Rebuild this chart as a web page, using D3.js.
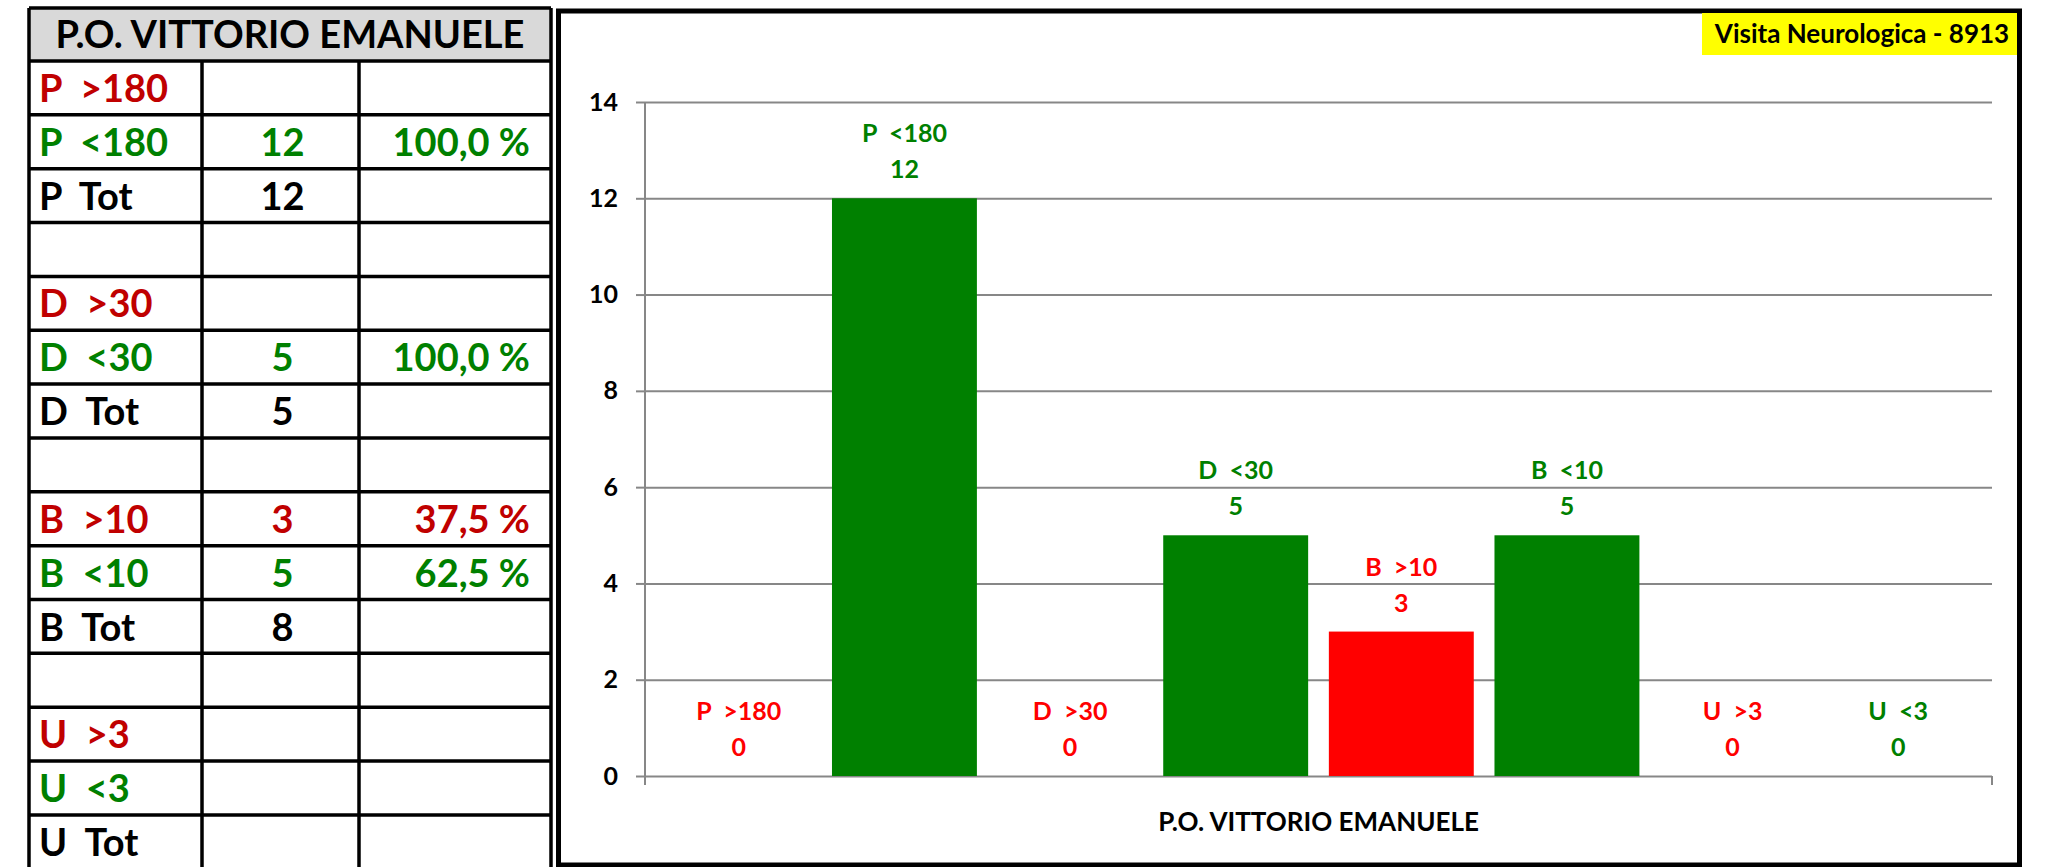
<!DOCTYPE html>
<html>
<head>
<meta charset="utf-8">
<script src="https://cdn.jsdelivr.net/npm/d3@7"></script>
<style>
  body{margin:0;background:#ffffff;}
  svg text{font-family:Lato,"Open Sans",sans-serif;font-weight:700;white-space:pre;}
</style>
</head>
<body>
<svg id="board" width="2047" height="867"></svg>
<script>
//table on the left, bar chart on the right

//table data
var tableTitle = "P.O. VITTORIO EMANUELE";
var rowLabels = ["P  >180","P  <180","P  Tot","","D  >30","D  <30","D  Tot","","B  >10","B  <10","B  Tot","","U  >3","U  <3","U  Tot"];
var rowCounts = ["","12","12","","","5","5","","3","5","8","","","",""];
var rowPercents = ["","100,0 %","","","","100,0 %","","","37,5 %","62,5 %","","","","",""];
var rowKinds = ["late","ok","tot","none","late","ok","tot","none","late","ok","tot","none","late","ok","tot"];

//chart data
var chartTitle = "Visita Neurologica - 8913";
var categories = ["P.O. VITTORIO EMANUELE"];
var seriesNames = ["P  >180","P  <180","D  >30","D  <30","B  >10","B  <10","U  >3","U  <3"];
var seriesValues = [0,12,0,5,3,5,0,0];
var seriesKinds = ["late","ok","late","ok","late","ok","late","ok"];
var yTicks = [0,2,4,6,8,10,12,14];

var svg = d3.select('#board');

//----- table -----
var tableColor = {late:'#c00000', ok:'#008000', tot:'#000000', none:'#000000'};
var colX = [29,202,359,551],
    tableTop = 8,
    headBottom = 61,
    rowH = 53.85;

var table = svg.append('g').attr('id','table');

table.append('rect')
     .attr('x',colX[0]).attr('y',tableTop)
     .attr('width',colX[3]-colX[0]).attr('height',headBottom-tableTop)
     .style('fill','#d9d9d9');

table.append('text')
     .text(tableTitle)
     .attr('x',(colX[0]+colX[3])/2)
     .attr('y',48)
     .style('text-anchor','middle')
     .style('font-size','38px')
     .style('fill','#000000');

var rows = table.selectAll('g.row')
                .data(rowLabels)
                .enter()
                .append('g')
                .attr('class','row')
                .attr('transform',(d,i)=>'translate(0,'+(headBottom+rowH*i)+')');

rows.append('text')
    .text(d=>d)
    .attr('x',colX[0]+10)
    .attr('y',41)
    .style('font-size','38px')
    .style('fill',(d,i)=>tableColor[rowKinds[i]]);

rows.append('text')
    .text((d,i)=>rowCounts[i])
    .attr('x',(colX[1]+colX[2])/2+2)
    .attr('y',41)
    .style('text-anchor','middle')
    .style('font-size','38px')
    .style('fill',(d,i)=>tableColor[rowKinds[i]]);

rows.append('text')
    .text((d,i)=>rowPercents[i])
    .attr('x',colX[3]-21)
    .attr('y',41)
    .style('text-anchor','end')
    .style('font-size','38px')
    .style('fill',(d,i)=>tableColor[rowKinds[i]]);

//grid lines of the table
var hLines = d3.range(rowLabels.length+1).map(i=>headBottom+rowH*i);
table.selectAll('line.h')
     .data([tableTop,...hLines])
     .enter()
     .append('line')
     .attr('x1',colX[0]).attr('x2',colX[3])
     .attr('y1',d=>d).attr('y2',d=>d)
     .style('stroke','#000000').style('stroke-width',3.5);

table.selectAll('line.v')
     .data(colX)
     .enter()
     .append('line')
     .attr('x1',d=>d).attr('x2',d=>d)
     .attr('y1',(d,i)=>(i===0||i===3)?tableTop:headBottom)
     .attr('y2',870)
     .style('stroke','#000000').style('stroke-width',3.5);

//----- chart -----
var barColor = {late:'#ff0000', ok:'#008000'};
var chart = svg.append('g').attr('id','chart');

chart.append('rect')
     .attr('x',558.5).attr('y',11)
     .attr('width',1461).attr('height',854)
     .style('fill','#ffffff')
     .style('stroke','#000000')
     .style('stroke-width',5);

chart.append('rect')
     .attr('x',1702).attr('y',13)
     .attr('width',315).attr('height',42)
     .style('fill','#ffff00');

chart.append('text')
     .text(chartTitle)
     .attr('x',1862).attr('y',43)
     .style('text-anchor','middle')
     .style('font-size','26px')
     .style('fill','#000000');

var plot = {left:645,right:1992,top:102,bottom:776};

var y = d3.scaleLinear()
          .domain([0,14])
          .range([plot.bottom,plot.top]);

var x0 = d3.scaleBand()
           .domain(categories)
           .range([plot.left,plot.right]);

var x1 = d3.scaleBand()
           .domain(seriesNames)
           .range([plot.left+11,plot.right-11])
           .paddingInner(0.125)
           .paddingOuter(0.0625);

//gridlines
chart.append('g')
     .attr('transform','translate('+plot.left+',0)')
     .call(d3.axisLeft(y).tickValues(yTicks).tickSize(-(plot.right-plot.left)).tickFormat(''))
     .call(g=>g.select('.domain').remove())
     .call(g=>g.selectAll('line').style('stroke','#878787').style('stroke-width',2));

//y axis with ticks and labels
chart.append('g')
     .attr('transform','translate('+plot.left+',0)')
     .call(d3.axisLeft(y).tickValues(yTicks).tickSize(9).tickPadding(18))
     .call(g=>g.select('.domain').remove())
     .call(g=>g.selectAll('line').style('stroke','#878787').style('stroke-width',2))
     .call(g=>g.selectAll('text').style('font-size','25px').style('fill','#000000').style('font-family','Lato'));

//axis lines
chart.append('line')
     .attr('x1',plot.left).attr('x2',plot.left)
     .attr('y1',plot.top).attr('y2',plot.bottom+9)
     .style('stroke','#878787').style('stroke-width',2);
chart.append('line')
     .attr('x1',plot.right).attr('x2',plot.right)
     .attr('y1',plot.bottom).attr('y2',plot.bottom+9)
     .style('stroke','#878787').style('stroke-width',2);

//category label
chart.append('g')
     .attr('transform','translate(0,'+plot.bottom+')')
     .call(d3.axisBottom(x0).tickSize(0).tickPadding(37))
     .call(g=>g.select('.domain').remove())
     .call(g=>g.selectAll('text').style('font-size','26px').style('fill','#000000').style('font-family','Lato'));

//bars
var bars = chart.selectAll('g.bar')
                .data(seriesNames.map((s,i)=>({name:s,value:seriesValues[i],kind:seriesKinds[i]})))
                .enter()
                .append('g')
                .attr('class','bar');

bars.append('rect')
    .attr('x',d=>x1(d.name))
    .attr('y',d=>y(d.value))
    .attr('width',x1.bandwidth())
    .attr('height',d=>y(0)-y(d.value))
    .style('fill',d=>barColor[d.kind]);

bars.append('text')
    .text(d=>d.name)
    .attr('x',d=>x1(d.name)+x1.bandwidth()/2)
    .attr('y',d=>y(d.value)-56)
    .style('text-anchor','middle')
    .style('font-size','25px')
    .style('fill',d=>barColor[d.kind]);

bars.append('text')
    .text(d=>d.value)
    .attr('x',d=>x1(d.name)+x1.bandwidth()/2)
    .attr('y',d=>y(d.value)-20)
    .style('text-anchor','middle')
    .style('font-size','25px')
    .style('fill',d=>barColor[d.kind]);
</script>
</body>
</html>
